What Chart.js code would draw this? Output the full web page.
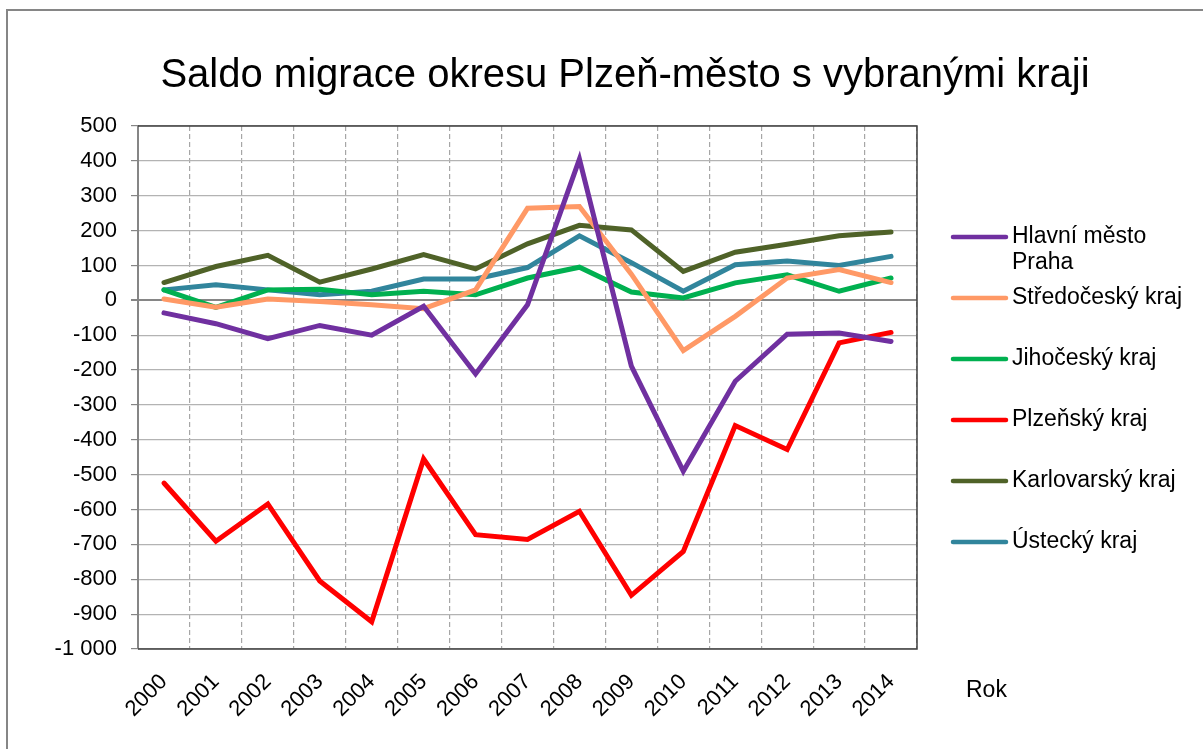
<!DOCTYPE html>
<html>
<head>
<meta charset="utf-8">
<script src="https://cdn.jsdelivr.net/npm/chart.js@4/dist/chart.umd.min.js"></script>
<style>
  html, body { margin: 0; padding: 0; background: #fff; }
  #wrap { width: 1203px; height: 749px; }
</style>
</head>
<body>
<div id="wrap"><canvas id="migChart" width="1203" height="749"></canvas></div>
<script>
// roky a hodnoty
const years = ["2000", "2001", "2002", "2003", "2004", "2005", "2006", "2007", "2008", "2009", "2010", "2011", "2012", "2013", "2014"];
const praha = [-36, -67, -110, -72, -100, -17, -211, -13, 405, -189, -490, -232, -97, -94, -118];
const stredocesky = [4, -20, 4, -3, -13, -24, 30, 264, 269, 75, -144, -46, 64, 88, 51];
const jihocesky = [30, -20, 30, 32, 16, 26, 16, 64, 95, 24, 7, 50, 73, 26, 64];
const plzensky = [-524, -691, -584, -805, -922, -455, -672, -686, -605, -846, -720, -359, -428, -122, -92];
const karlovarsky = [51, 97, 129, 52, 90, 131, 90, 162, 215, 202, 83, 138, 161, 185, 196];
const ustecky = [30, 45, 30, 16, 26, 61, 61, 94, 185, 108, 26, 102, 113, 100, 126];

const seriesNames = ["Hlavní město Praha", "Středočeský kraj", "Jihočeský kraj", "Plzeňský kraj", "Karlovarský kraj", "Ústecký kraj"];
const seriesColors = ["#7030A0", "#FF9966", "#00B050", "#FF0000", "#4F6228", "#31859C"];
const yTicks = { min: -1000, max: 500, step: 100 };

const FONT = "'Liberation Sans', Arial, sans-serif";

// formát čísel s mezerou jako oddělovačem tisíců
function fmt(v) {
  return String(v).replace(/\B(?=(\d{3})+(?!\d))/g, " ");
}

// pozadí a rámeček celé oblasti grafu
const framePlugin = {
  id: "frame",
  beforeDraw(chart) {
    const ctx = chart.ctx;
    ctx.save();
    ctx.fillStyle = "#fff";
    ctx.fillRect(0, 0, chart.width, chart.height);
    ctx.strokeStyle = "#868686";
    ctx.lineWidth = 2;
    ctx.strokeRect(7, 10, chart.width + 10, chart.height + 10);
    ctx.restore();
  },
  beforeDatasetsDraw(chart) {
    // tmavý okraj plochy grafu (nahoře, vpravo, dole)
    const a = chart.chartArea;
    const ctx = chart.ctx;
    ctx.save();
    ctx.strokeStyle = "#404040";
    ctx.lineWidth = 1.5;
    ctx.beginPath();
    ctx.moveTo(a.left, a.top);
    ctx.lineTo(a.right, a.top);
    ctx.lineTo(a.right, a.bottom);
    ctx.lineTo(a.left, a.bottom);
    ctx.stroke();
    ctx.restore();
  }
};

// nadpis, legenda a popisek osy
const textPlugin = {
  id: "texts",
  afterDraw(chart) {
    const ctx = chart.ctx;
    ctx.save();
    ctx.fillStyle = "#000";
    ctx.font = "40px " + FONT;
    ctx.textAlign = "center";
    ctx.textBaseline = "middle";
    ctx.fillText("Saldo migrace okresu Plzeň-město s vybranými kraji", 625, 76);

    ctx.font = "23px " + FONT;
    ctx.textAlign = "left";
    ctx.fillText("Rok", 966, 691);

    let y = 237;
    chart.data.datasets.forEach((ds) => {
      ctx.strokeStyle = ds.borderColor;
      ctx.lineWidth = 4.5;
      ctx.lineCap = "round";
      ctx.beginPath();
      ctx.moveTo(953, y);
      ctx.lineTo(1006, y);
      ctx.stroke();
      ctx.fillStyle = "#000";
      // zalomení dlouhého názvu
      const words = ds.label.split(" ");
      let line = "";
      let ly = y;
      words.forEach((w) => {
        const test = line ? line + " " + w : w;
        if (ctx.measureText(test).width > 185 && line) {
          ctx.fillText(line, 1012, ly);
          line = w;
          ly += 26;
        } else {
          line = test;
        }
      });
      ctx.fillText(line, 1012, ly);
      y += 61;
    });
    ctx.restore();
  }
};

const seriesData = [praha, stredocesky, jihocesky, plzensky, karlovarsky, ustecky];

const migChart = new Chart(document.getElementById("migChart"), {
  type: "line",
  data: {
    labels: years,
    datasets: seriesData.map((d, i) => ({
      label: seriesNames[i],
      data: d,
      borderColor: seriesColors[i],
      backgroundColor: seriesColors[i],
      borderWidth: 5,
      pointRadius: 0,
      tension: 0,
      fill: false,
      borderCapStyle: "round",
      borderJoinStyle: "miter"
    }))
  },
  options: {
    responsive: false,
    animation: false,
    devicePixelRatio: 1,
    layout: { padding: { top: 126, right: 286, bottom: 0, left: 0 } },
    plugins: {
      legend: { display: false },
      title: { display: false },
      tooltip: { enabled: false }
    },
    scales: {
      x: {
        offset: true,
        grid: {
          offset: true,
          color: "#a6a6a6",
          lineWidth: 1.2,
          drawTicks: false
        },
        border: { display: false, dash: [5, 3] },
        ticks: {
          color: "#000",
          font: { family: FONT, size: 22 },
          minRotation: 45,
          maxRotation: 45,
          autoSkip: false,
          padding: 20
        },
        afterFit(scale) { scale.height = 100; }
      },
      y: {
        min: yTicks.min,
        max: yTicks.max,
        grid: {
          color: (c) => (c.tick && c.tick.value === 0 ? "#868686" : "#b3b3b3"),
          lineWidth: (c) => (c.tick && c.tick.value === 0 ? 2 : 1.2),
          tickColor: "#868686",
          tickLength: 7
        },
        border: { display: true, color: "#868686", width: 2 },
        ticks: {
          stepSize: yTicks.step,
          color: "#000",
          font: { family: FONT, size: 22 },
          padding: 14,
          callback: (v) => fmt(v)
        },
        afterFit(scale) { scale.width = 138; }
      }
    }
  },
  plugins: [framePlugin, textPlugin]
});
</script>
</body>
</html>
